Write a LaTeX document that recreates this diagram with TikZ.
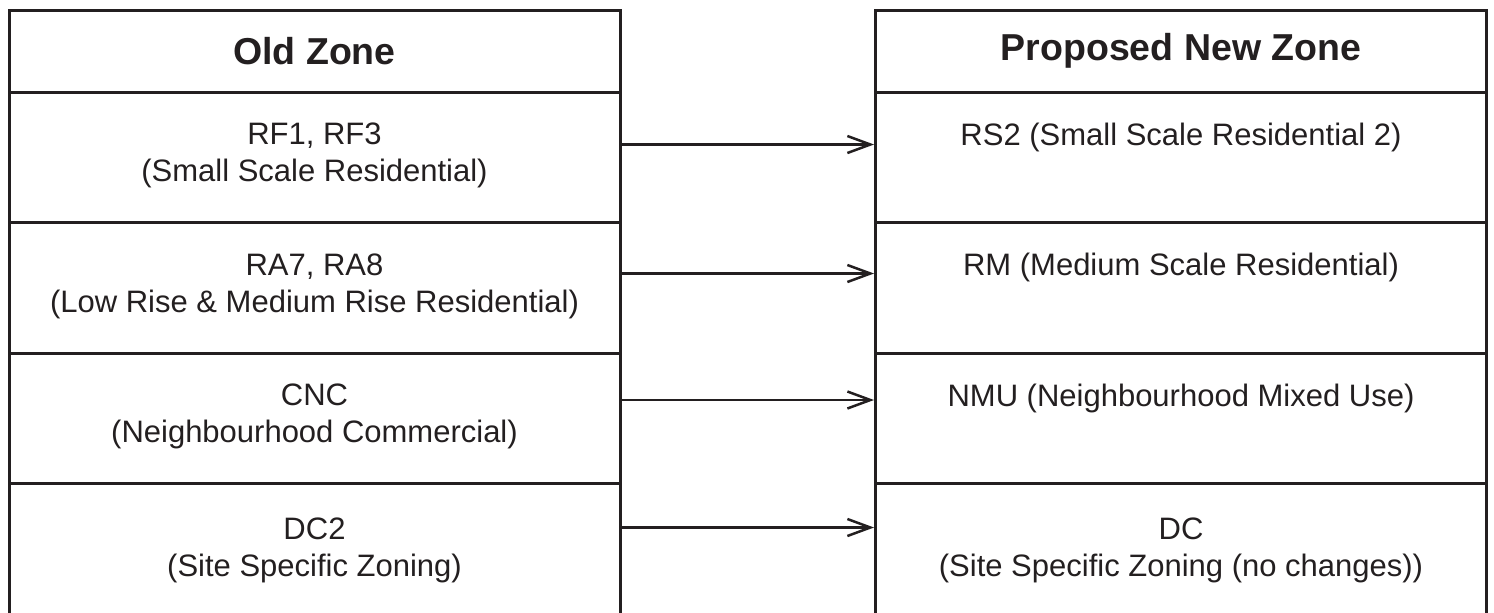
\documentclass[tikz,border=0pt]{standalone}
\usepackage{fontspec}
\setmainfont{Liberation Sans}
\usetikzlibrary{calc,arrows.meta}
\definecolor{ink}{HTML}{231F20}
\newcommand{\CellW}{305.5pt}
\newcommand{\HeadH}{41pt}
\newcommand{\RowH}{65.25pt}
\tikzset{Cell/.style={
    inner sep=0pt,
    minimum width=\CellW,
    minimum height=\RowH,
    draw=ink,
    line width=1.5pt,
    },
    Txt/.style={
    inner sep=0pt,
    align=center,
    text=ink,
    font=\fontsize{15.5}{18.5}\selectfont,
    anchor=north,
    }
}

\begin{document}
\begin{tikzpicture}[x=0.5pt, y=-0.5pt,
    Head/.style={Cell, minimum height=\HeadH, text=ink,
      font=\bfseries\fontsize{18.75}{22}\selectfont},
    arr/.style={draw=ink, line width=1.25pt,
      -{Straight Barb[length=11.5pt,width=8.5pt]}},
]
\useasboundingbox (0,0) rectangle (1494,612);
% headers
\node [Head] (lh) at (314.5,51) {Old Zone};
\node [Head] (rh) at (1181,51) {Proposed New Zone};
% row 1
\pgfmathsetmacro{\row}{1};
\node [Cell] (l1) at (314.5,{92+(\row-0.5)*130.5}) {};
\node [Cell] (r1) at (1181,{92+(\row-0.5)*130.5}) {};
\node [Txt] (l1t) at ($(l1.north)+(0,32)$) {RF1, RF3\\(Small Scale Residential)};
\node [Txt] (r1t) at ($(r1.north)+(0,32)$) {RS2 (Small Scale Residential 2)};
\coordinate (a1) at ($(l1.north)+(0,54)$);
% row 2
\pgfmathsetmacro{\row}{2};
\node [Cell] (l2) at (314.5,{92+(\row-0.5)*130.5}) {};
\node [Cell] (r2) at (1181,{92+(\row-0.5)*130.5}) {};
\node [Txt] (l2t) at ($(l2.north)+(0,32)$) {RA7, RA8\\(Low Rise \& Medium Rise Residential)};
\node [Txt] (r2t) at ($(r2.north)+(0,32)$) {RM (Medium Scale Residential)};
\coordinate (a2) at ($(l2.north)+(0,52.5)$);
% row 3
\pgfmathsetmacro{\row}{3};
\node [Cell] (l3) at (314.5,{92+(\row-0.5)*130.5}) {};
\node [Cell] (r3) at (1181,{92+(\row-0.5)*130.5}) {};
\node [Txt] (l3t) at ($(l3.north)+(0,32)$) {CNC\\(Neighbourhood Commercial)};
\node [Txt] (r3t) at ($(r3.north)+(0,32)$) {NMU (Neighbourhood Mixed Use)};
\coordinate (a3) at ($(l3.north)+(0,48.5)$);
% row 4
\pgfmathsetmacro{\row}{4};
\node [Cell] (l4) at (314.5,{92+(\row-0.5)*130.5}) {};
\node [Cell] (r4) at (1181,{92+(\row-0.5)*130.5}) {};
\node [Txt] (l4t) at ($(l4.north)+(0,35)$) {DC2\\(Site Specific Zoning)};
\node [Txt] (r4t) at ($(r4.north)+(0,35)$) {DC\\(Site Specific Zoning (no changes))};
\coordinate (a4) at ($(l4.north)+(0,45.5)$);
% arrows
\foreach \i in {1,...,4}
  \draw [arr] (a\i -| l\i.east) -- (a\i -| r\i.west);
\end{tikzpicture}
\end{document}
